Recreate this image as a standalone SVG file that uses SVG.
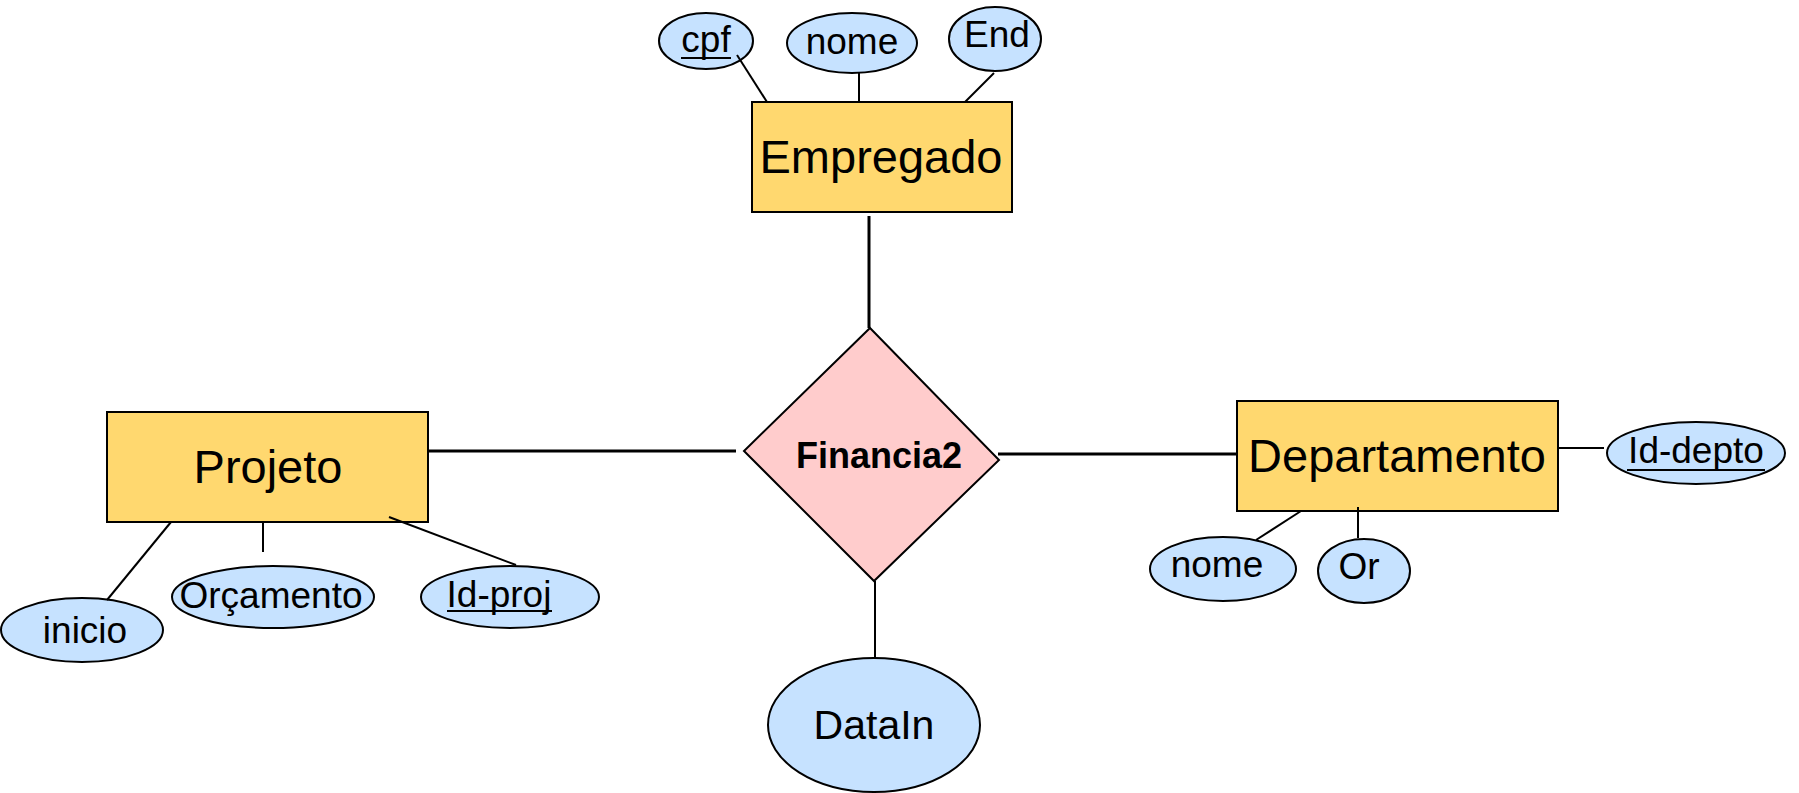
<svg xmlns="http://www.w3.org/2000/svg" width="1799" height="793" viewBox="0 0 1799 793">
  <style>
    .entity { fill: #FFD86F; stroke: #000; stroke-width: 2; }
    .attr { fill: #C6E2FF; stroke: #000; stroke-width: 2; }
    .rel { fill: #FFCCCC; stroke: #000; stroke-width: 2; }
    .link { stroke: #000; stroke-width: 2; fill: none; }
    .main { stroke: #000; stroke-width: 3; fill: none; }
    .ul { stroke: #000; stroke-width: 2; }
    text { font-family: "Liberation Sans", Arial, sans-serif; fill: #000; }
    .big { font-size: 47px; text-anchor: middle; }
    .small { font-size: 37px; text-anchor: middle; }
    .relname { font-size: 36px; font-weight: bold; }
  </style>
  <rect width="1799" height="793" fill="#FFFFFF"/>

  <!-- entities -->
  <g id="empregado">
    <rect class="entity" x="752" y="102" width="260" height="110"/>
    <text class="big" x="881" y="173">Empregado</text>
  </g>
  <g id="projeto">
    <rect class="entity" x="107" y="412" width="321" height="110"/>
    <text class="big" x="268" y="483">Projeto</text>
  </g>
  <g id="departamento">
    <rect class="entity" x="1237" y="401" width="321" height="110"/>
    <text class="big" x="1397" y="472">Departamento</text>
  </g>

  <!-- relationship -->
  <g id="financia2">
    <polygon class="rel" points="870,328 999,460 874,581 744,451"/>
    <text class="relname" x="796" y="468">Financia2</text>
  </g>

  <!-- attributes of Empregado -->
  <g id="emp-cpf">
    <ellipse class="attr" cx="706" cy="41" rx="47" ry="28"/>
    <text class="small" x="706" y="52">cpf</text>
    <line class="ul" x1="681" y1="58" x2="731" y2="58"/>
  </g>
  <g id="emp-nome">
    <ellipse class="attr" cx="852" cy="43" rx="65" ry="30"/>
    <text class="small" x="852" y="54">nome</text>
  </g>
  <g id="emp-end">
    <ellipse class="attr" cx="995" cy="39" rx="46" ry="32"/>
    <text class="small" x="997" y="47">End</text>
  </g>

  <!-- attributes of Projeto -->
  <g id="proj-inicio">
    <ellipse class="attr" cx="82" cy="630" rx="81" ry="32"/>
    <text class="small" x="85" y="643">inicio</text>
  </g>
  <g id="proj-orcamento">
    <ellipse class="attr" cx="273" cy="597" rx="101" ry="31"/>
    <text class="small" x="271" y="608">Orçamento</text>
  </g>
  <g id="proj-id">
    <ellipse class="attr" cx="510" cy="597" rx="89" ry="31"/>
    <text class="small" x="499" y="607">Id-proj</text>
    <line class="ul" x1="447" y1="611" x2="552" y2="611"/>
  </g>

  <!-- attributes of Departamento -->
  <g id="dept-id">
    <ellipse class="attr" cx="1696" cy="453" rx="89" ry="31"/>
    <text class="small" x="1696" y="463">Id-depto</text>
    <line class="ul" x1="1627" y1="470" x2="1765" y2="470"/>
  </g>
  <g id="dept-nome">
    <ellipse class="attr" cx="1223" cy="569" rx="73" ry="32"/>
    <text class="small" x="1217" y="577">nome</text>
  </g>
  <g id="dept-or">
    <ellipse class="attr" cx="1364" cy="571" rx="46" ry="32"/>
    <text class="small" x="1359" y="579">Or</text>
  </g>

  <!-- relationship attribute -->
  <g id="rel-datain">
    <ellipse class="attr" cx="874" cy="725" rx="106" ry="67"/>
    <text x="874" y="739" font-size="41" text-anchor="middle">DataIn</text>
  </g>

  <!-- connectors, drawn over the shapes they touch -->
  <g id="connectors">
    <line class="main" x1="869" y1="216" x2="869" y2="328"/>
    <line class="main" x1="428" y1="451" x2="736" y2="451"/>
    <line class="main" x1="998" y1="454" x2="1237" y2="454"/>
    <line class="link" x1="875" y1="581" x2="875" y2="658"/>
    <line class="link" x1="737" y1="55" x2="767" y2="102"/>
    <line class="link" x1="859" y1="72" x2="859" y2="102"/>
    <line class="link" x1="994" y1="73" x2="965" y2="102"/>
    <line class="link" x1="171" y1="522" x2="107" y2="600"/>
    <line class="link" x1="263" y1="523" x2="263" y2="552"/>
    <line class="link" x1="389" y1="517" x2="516" y2="565"/>
    <line class="link" x1="1301" y1="511" x2="1256" y2="540"/>
    <line class="link" x1="1358" y1="507" x2="1358" y2="538"/>
    <line class="link" x1="1559" y1="448" x2="1604" y2="448"/>
  </g>
</svg>
